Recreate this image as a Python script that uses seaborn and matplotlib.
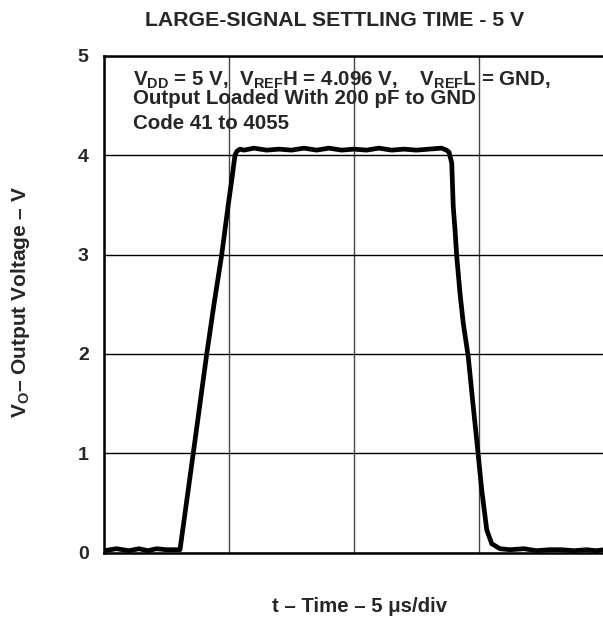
import numpy as np
import pandas as pd
import matplotlib
matplotlib.use("Agg")
import matplotlib.pyplot as plt
import seaborn as sns

# ---- data (time in microseconds, output in volts) ----
time_us = [0.0, 0.5, 1.0, 1.4, 1.75, 2.1, 2.5, 2.9, 3.04,
           3.57, 4.11, 4.4, 4.71, 4.97, 5.11, 5.24, 5.32, 5.44,
           5.6, 6.0, 6.5, 7.0, 7.5, 8.0, 8.5, 9.0, 9.5, 10.0, 10.5, 11.0,
           11.5, 12.0, 12.5, 13.0, 13.5, 13.7,
           13.8, 13.91, 13.97, 14.04, 14.11, 14.24, 14.37, 14.57, 14.77,
           14.97, 15.11, 15.31, 15.51, 15.84, 16.24,
           16.8, 17.3, 17.8, 18.3, 18.8, 19.3, 19.7, 20.0]
vout = [0.02, 0.04, 0.02, 0.04, 0.02, 0.04, 0.03, 0.03, 0.03,
        1.0, 2.0, 2.5, 3.0, 3.5, 3.75, 4.0, 4.04, 4.06,
        4.05, 4.07, 4.05, 4.06, 4.05, 4.07, 4.05, 4.07, 4.05, 4.06, 4.05, 4.07,
        4.05, 4.06, 4.05, 4.06, 4.07, 4.05,
        4.03, 3.92, 3.48, 3.25, 2.98, 2.61, 2.31, 1.97, 1.47,
        0.98, 0.63, 0.23, 0.09, 0.04, 0.03,
        0.04, 0.02, 0.03, 0.03, 0.02, 0.03, 0.02, 0.03]
x_ticks = [0, 5, 10, 15, 20]
y_ticks = [0, 1, 2, 3, 4, 5]
y_tick_labels = ["0", "1", "2", "3", "4", "5"]

title = "LARGE-SIGNAL SETTLING TIME - 5 V"
xlabel = "t \u2013 Time \u2013 5 \u03bcs/div"
ylabel = "$V_O$\u2013 Output Voltage \u2013 V"
note_lines = ["$V_{DD}$ = 5 V,  $V_{REF}$H = 4.096 V,    $V_{REF}$L = GND,",
              "Output Loaded With 200 pF to GND",
              "Code 41 to 4055"]

sns.set_theme(style="white")
plt.rcParams["font.family"] = ["Liberation Sans", "DejaVu Sans"]
plt.rcParams["font.weight"] = "bold"
plt.rcParams["mathtext.fontset"] = "custom"
plt.rcParams["mathtext.rm"] = "Liberation Sans:bold"
plt.rcParams["mathtext.it"] = "Liberation Sans:bold"
plt.rcParams["mathtext.bf"] = "Liberation Sans:bold"
plt.rcParams["mathtext.default"] = "rm"

df = pd.DataFrame({"t": time_us, "v": vout})

fig = plt.figure(figsize=(6.03, 6.19), dpi=100)
ax = fig.add_axes([104 / 603, 1 - 552.7 / 619, 500 / 603, 497 / 619])

sns.lineplot(data=df, x="t", y="v", ax=ax, color="black", lw=3.4,
             estimator=None, sort=False, solid_joinstyle="round", solid_capstyle="round")

ax.set_xlim(0, 20)
ax.set_ylim(0, 5)
ax.set_xticks(x_ticks)
ax.set_xticklabels([])
ax.set_yticks(y_ticks)
ax.set_yticklabels(y_tick_labels, fontsize=14, fontweight="bold")
ax.tick_params(axis="both", length=0, pad=11)
ax.grid(True, axis="y", color="black", lw=1.0)
ax.grid(True, axis="x", color="#444444", lw=1.0)
for s in ["left", "bottom", "top"]:
    ax.spines[s].set_color("black")
    ax.spines[s].set_linewidth(1.8)
ax.spines["right"].set_visible(False)
ax.set_xlabel("")
ax.set_ylabel("")

fig.text(335 / 603, 1 - 20 / 619, title, ha="center", va="center",
         fontsize=15.3, fontweight="bold")
fig.text(360 / 603, 1 - 606 / 619, xlabel, ha="center", va="center",
         fontsize=14.7, fontweight="bold")
fig.text(21 / 603, 1 - 302 / 619, ylabel, ha="center", va="center",
         rotation=90, fontsize=15, fontweight="bold")

note_y = [4.695, 4.515, 4.26]
for line, yv in zip(note_lines, note_y):
    ax.text(1.16, yv, line, ha="left", va="baseline", fontsize=14.8, fontweight="bold")

fig.savefig("out.png", dpi=100)
